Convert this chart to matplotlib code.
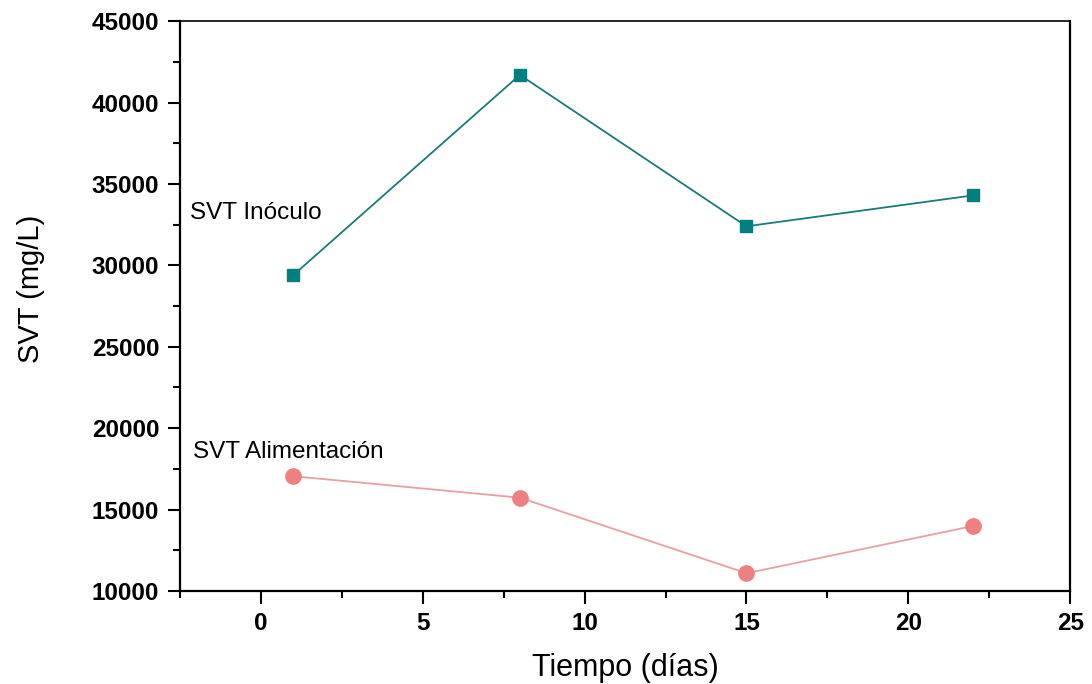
import matplotlib
matplotlib.use("Agg")
import matplotlib.pyplot as plt
from matplotlib.ticker import MultipleLocator

# datos
dias = [1, 8, 15, 22]
svt_inoculo = [29400, 41700, 32400, 34300]
svt_alimentacion = [17050, 15730, 11090, 13990]

xticks = [0, 5, 10, 15, 20, 25]
yticks = [10000, 15000, 20000, 25000, 30000, 35000, 40000, 45000]

plt.rcParams['font.family'] = ['Liberation Sans', 'DejaVu Sans']

fig = plt.figure(figsize=(10.92, 6.84), dpi=100)
ax = fig.add_axes([0.1648, 0.136, 0.8152, 0.833])

ax.plot(dias, svt_inoculo, color="#1a7a78", lw=1.3, marker="s", ms=9,
        mfc="#007f7f", mec="#007f7f")
ax.plot(dias, svt_alimentacion, color="#e8a0a0", lw=1.3, marker="o", ms=11,
        mfc="#f08080", mec="#f08080")

ax.text(-2.2, 33200, "SVT Inóculo", fontsize=17.5, va="center", ha="left")
ax.text(-2.1, 18550, "SVT Alimentación", fontsize=17.5, va="center", ha="left")

ax.set_xlim(-2.5, 25)
ax.set_ylim(10000, 45000)
ax.set_xticks(xticks)
ax.set_yticks(yticks)
ax.xaxis.set_minor_locator(MultipleLocator(2.5))
ax.yaxis.set_minor_locator(MultipleLocator(2500))

ax.tick_params(which="major", direction="out", length=9, width=1.5,
               labelsize=17.5, pad=6)
ax.tick_params(which="minor", direction="out", length=5, width=1.5)
for lab in ax.get_xticklabels() + ax.get_yticklabels():
    lab.set_fontweight("bold")

ax.spines["left"].set_linewidth(1.6)
ax.spines["bottom"].set_linewidth(1.6)
ax.spines["top"].set_linewidth(1.2)
ax.spines["right"].set_linewidth(1.6)

ax.set_xlabel("Tiempo (días)", fontsize=22)
ax.set_ylabel("SVT (mg/L)", fontsize=21)
ax.xaxis.set_label_coords(0.5, -0.108)
ax.yaxis.set_label_coords(-0.152, 0.53)

fig.savefig("out.png", dpi=100)
